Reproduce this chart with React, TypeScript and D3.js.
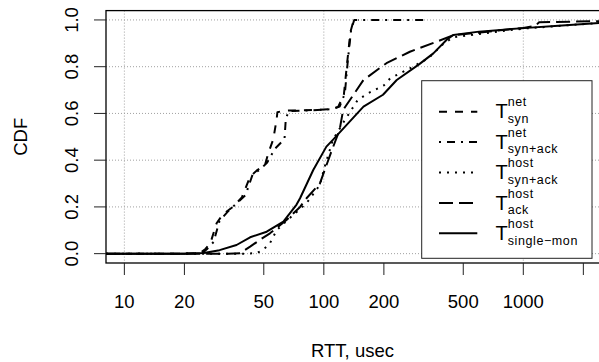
import React from 'react';
import * as d3 from 'd3';

// RTT values (usec) and CDF values
const netSynRtt = [8.1, 20, 24, 25.5, 27, 29, 31.3, 35, 38.8, 42.7, 46, 50.7, 52.7, 55.8, 58, 58.5, 62, 66, 90, 109, 118, 126, 131, 136, 141, 150];
const netSynCdf = [0, 0, 0.003, 0.02, 0.045, 0.13, 0.17, 0.2, 0.24, 0.33, 0.355, 0.38, 0.43, 0.49, 0.575, 0.605, 0.61, 0.612, 0.615, 0.618, 0.628, 0.68, 0.82, 0.95, 0.998, 1.0];

const netSynAckRtt = [8.1, 20, 24.5, 26, 28, 30, 33, 37, 40.5, 44, 48, 52, 57, 63.5, 64.5, 67, 80, 109, 120, 127.5, 132, 137, 142, 200, 315];
const netSynAckCdf = [0, 0, 0.002, 0.02, 0.05, 0.14, 0.18, 0.22, 0.25, 0.34, 0.36, 0.39, 0.45, 0.49, 0.58, 0.61, 0.612, 0.618, 0.629, 0.686, 0.829, 0.957, 1.0, 1.0, 1.0];

const hostSynAckRtt = [8.1, 20, 40, 46, 49.6, 53.7, 58, 65, 81.9, 95.5, 101, 111, 125, 148, 170, 200, 215, 270, 334, 400, 446, 600, 1000, 2466];
const hostSynAckCdf = [0, 0, 0, 0.002, 0.016, 0.045, 0.1, 0.14, 0.216, 0.294, 0.372, 0.487, 0.56, 0.658, 0.69, 0.72, 0.75, 0.793, 0.836, 0.9, 0.926, 0.94, 0.963, 0.988];

const hostAckRtt = [8.1, 20, 33, 38, 42.7, 47.8, 53.7, 65, 76, 81.9, 95.5, 109, 120, 125, 158, 206, 270, 368, 446, 700, 1000, 1150, 1200, 2466];
const hostAckCdf = [0, 0, 0, 0.002, 0.03, 0.059, 0.087, 0.144, 0.2, 0.237, 0.3, 0.436, 0.53, 0.615, 0.743, 0.815, 0.864, 0.907, 0.935, 0.952, 0.966, 0.975, 0.99, 0.995];

const singleMonRtt = [8.1, 20, 25, 30, 36.5, 42.7, 51.7, 62.7, 73, 76, 88.5, 103, 111, 158, 198, 232, 300, 354, 413, 446, 600, 1000, 1500, 2466];
const singleMonCdf = [0, 0, 0.003, 0.015, 0.037, 0.07, 0.094, 0.137, 0.21, 0.237, 0.358, 0.458, 0.487, 0.629, 0.68, 0.743, 0.81, 0.857, 0.915, 0.936, 0.95, 0.965, 0.975, 0.988];

const xTicks = [10, 20, 50, 100, 200, 500, 1000, 2000];
const xTickLabels = ['10', '20', '50', '100', '200', '500', '1000', ''];
const xGrid = [10, 100, 1000];
const yTicks = [0, 0.2, 0.4, 0.6, 0.8, 1.0];

const legendSup = ['net', 'net', 'host', 'host', 'host'];
const legendSub = ['syn', 'syn+ack', 'syn+ack', 'ack', 'single\u2212mon'];

const series = [
  { rtt: netSynRtt, cdf: netSynCdf, dash: '8,8' },
  { rtt: netSynAckRtt, cdf: netSynAckCdf, dash: '2,6,8,6' },
  { rtt: hostSynAckRtt, cdf: hostSynAckCdf, dash: '2,6' },
  { rtt: hostAckRtt, cdf: hostAckCdf, dash: '14,6' },
  { rtt: singleMonRtt, cdf: singleMonCdf, dash: null },
];

const W = 599;
const H = 362;
const font = '"Liberation Sans", Arial, Helvetica, sans-serif';

export default function App() {
  const left = 106, right = 601.5, top = 10.6, bottom = 263;

  const x = d3.scaleLog().domain([8.09, 2466]).range([left, right]);
  const y = d3.scaleLinear().domain([-0.04, 1.04]).range([bottom, top]);

  const line = d3.line<[number, number]>()
    .x(d => x(d[0]))
    .y(d => y(d[1]));

  const legX = 421.7, legY = 80.7, legW = 170.3, legH = 177.6;

  return (
    <svg width={W} height={H} style={{ position: 'absolute', left: 0, top: 0, background: '#fff' }} fontFamily={font}>
      <defs>
        <clipPath id="plotclip">
          <rect x={left} y={top} width={right - left} height={bottom - top} />
        </clipPath>
      </defs>

      {/* grid */}
      {yTicks.map(t => (
        <line key={'gy' + t} x1={left} x2={right} y1={y(t)} y2={y(t)} stroke="#a0a0a0" strokeWidth={1} strokeDasharray="1,2" />
      ))}
      {xGrid.map(t => (
        <line key={'gx' + t} x1={x(t)} x2={x(t)} y1={top} y2={bottom} stroke="#a0a0a0" strokeWidth={1} strokeDasharray="1,2" />
      ))}

      {/* curves */}
      <g clipPath="url(#plotclip)">
        {series.map((s, i) => (
          <path
            key={i}
            d={line(s.rtt.map((r, j) => [r, s.cdf[j]] as [number, number])) || ''}
            fill="none"
            stroke="#000"
            strokeWidth={2}
            strokeDasharray={s.dash || undefined}
            strokeLinejoin="round"
          />
        ))}
      </g>

      {/* box */}
      <rect x={left} y={top} width={right - left} height={bottom - top} fill="none" stroke="#000" strokeWidth={1.3} />

      {/* y axis */}
      {yTicks.map(t => (
        <g key={'yt' + t}>
          <line x1={left - 12} x2={left} y1={y(t)} y2={y(t)} stroke="#222" strokeWidth={1} />
          <text
            transform={`translate(77.5,${y(t)}) rotate(-90)`}
            textAnchor="middle"
            fontSize={18.5}
            fill="#000"
          >{t.toFixed(1)}</text>
        </g>
      ))}

      {/* x axis */}
      {xTicks.map((t, i) => (
        <g key={'xt' + t}>
          <line x1={x(t)} x2={x(t)} y1={bottom} y2={bottom + 12} stroke="#222" strokeWidth={1} />
          <text x={x(t)} y={308.3} textAnchor="middle" fontSize={18.5} fill="#000">{xTickLabels[i]}</text>
        </g>
      ))}

      {/* axis titles */}
      <text x={352.5} y={356.7} textAnchor="middle" fontSize={18.5} fill="#000">RTT, usec</text>
      <text transform={`translate(27,136.8) rotate(-90)`} textAnchor="middle" fontSize={18.5} fill="#000">CDF</text>

      {/* legend */}
      <rect x={legX} y={legY} width={legW} height={legH} fill="#fff" stroke="#222" strokeWidth={1} />
      {series.map((s, i) => {
        const c = 111.7 + 30.4 * i;
        return (
          <g key={'lg' + i}>
            <line x1={439} x2={477.3} y1={c} y2={c} stroke="#000" strokeWidth={2} strokeDasharray={s.dash || undefined} />
            <text x={495.5} y={c + 6.6} fontSize={20} fill="#000">T</text>
            <text x={507.7} y={c - 5.3} fontSize={12.5} letterSpacing={0.6} fill="#000">{legendSup[i]}</text>
            <text x={507.7} y={c + 11.2} fontSize={12.5} letterSpacing={0.6} fill="#000">{legendSub[i]}</text>
          </g>
        );
      })}
    </svg>
  );
}
